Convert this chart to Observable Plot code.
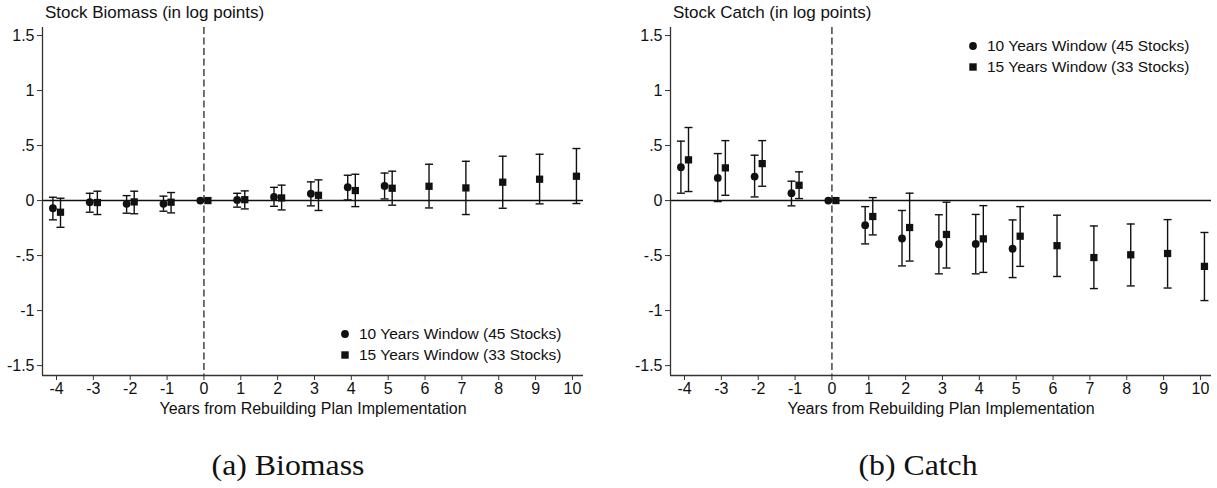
<!DOCTYPE html>
<html>
<head>
<meta charset="utf-8">
<script src="https://cdn.jsdelivr.net/npm/d3@7"></script>
<script src="https://cdn.jsdelivr.net/npm/@observablehq/plot@0.6"></script>
<style>
  html, body { margin: 0; padding: 0; background: #fff; overflow: hidden; }
  #wrap { position: relative; width: 1217px; height: 488px; background: #fff; font-family: "Liberation Sans", Arial, sans-serif; color: #111; }
  .panel { position: absolute; top: 0; }
  .ptitle { position: absolute; font-size: 17px; white-space: nowrap; line-height: 1; }
  .legend { position: absolute; font-size: 15.5px; white-space: nowrap; line-height: 1; }
  .legend .row { display: flex; align-items: center; height: 21px; }
  .legend svg { margin-right: 8px; }
  .caption { position: absolute; font-family: "Liberation Serif", "DejaVu Serif", serif; font-size: 30px; white-space: nowrap; line-height: 1; transform: translateX(-50%) scaleX(1.06); }
</style>
</head>
<body>
<div id="wrap"></div>
<script>
// ---------- data ----------
const years10 = [-4, -3, -2, -1, 0, 1, 2, 3, 4, 5];
const years15 = [-4, -3, -2, -1, 0, 1, 2, 3, 4, 5, 6, 7, 8, 9, 10];

// Biomass
const biomass10Est = [-0.07, -0.015, -0.03, -0.03, 0, 0.006, 0.033, 0.062, 0.121, 0.133];
const biomass10Lo  = [-0.175, -0.106, -0.115, -0.097, null, -0.06, -0.052, -0.048, 0.006, 0.015];
const biomass10Hi  = [0.03, 0.066, 0.045, 0.04, null, 0.066, 0.12, 0.17, 0.23, 0.25];

const biomass15Est = [-0.106, -0.018, -0.012, -0.015, 0, 0.008, 0.024, 0.048, 0.091, 0.112, 0.13, 0.115, 0.167, 0.194, 0.221];
const biomass15Lo  = [-0.243, -0.127, -0.12, -0.112, null, -0.076, -0.085, -0.09, -0.055, -0.042, -0.067, -0.127, -0.07, -0.03, -0.027];
const biomass15Hi  = [0.021, 0.085, 0.085, 0.073, null, 0.088, 0.14, 0.188, 0.239, 0.267, 0.33, 0.357, 0.403, 0.421, 0.473];

// Catch
const catch10Est = [0.303, 0.206, 0.218, 0.067, 0, -0.224, -0.345, -0.397, -0.394, -0.438];
const catch10Lo  = [0.067, -0.009, 0.033, -0.048, null, -0.394, -0.594, -0.666, -0.666, -0.7];
const catch10Hi  = [0.54, 0.427, 0.412, 0.176, null, -0.055, -0.09, -0.129, -0.126, -0.176];

const catch15Est = [0.37, 0.297, 0.336, 0.139, 0, -0.145, -0.245, -0.308, -0.348, -0.324, -0.41, -0.518, -0.493, -0.481, -0.598];
const catch15Lo  = [0.082, 0.048, 0.13, 0.018, null, -0.312, -0.55, -0.613, -0.653, -0.598, -0.69, -0.80, -0.776, -0.795, -0.909];
const catch15Hi  = [0.664, 0.545, 0.545, 0.261, null, 0.027, 0.067, -0.015, -0.046, -0.055, -0.133, -0.231, -0.213, -0.173, -0.29];

const xTicks = [-4, -3, -2, -1, 0, 1, 2, 3, 4, 5, 6, 7, 8, 9, 10];
const yTicks = [-1.5, -1, -0.5, 0, 0.5, 1, 1.5];
const eventYear = [0];
const zeroLine = [0];

const seriesLabels = ["10 Years Window (45 Stocks)", "15 Years Window (33 Stocks)"];
const panelTitles = ["Stock Biomass (in log points)", "Stock Catch (in log points)"];
const xLabel = "Years from Rebuilding Plan Implementation";
const captions = ["(a) Biomass", "(b) Catch"];

// ---------- helpers ----------
function rows(years, est, lo, hi) {
  return years.map((y, i) => ({year: y, est: est[i], lo: lo[i], hi: hi[i]}));
}
const capSymbol = {
  draw(ctx) { ctx.moveTo(-4, 0); ctx.lineTo(4, 0); }
};
const fmtY = d => d === 0 ? "0" : String(d).replace("0.", ".");

const X_DOMAIN = [-4.38, 10.3];
const Y_DOMAIN = [-1.59, 1.573];

function buildPanel(d10, d15, width, marginRight) {
  const ink = "#111";
  const ci = d => d.filter(r => r.lo != null);
  const layers = [];
  const addSeries = (data, dx, symbol, r) => {
    layers.push(Plot.ruleX(ci(data), {x: "year", y1: "lo", y2: "hi", dx, stroke: ink, strokeWidth: 1.4}));
    layers.push(Plot.dot(ci(data), {x: "year", y: "lo", dx, symbol: capSymbol, stroke: ink, strokeWidth: 1.4, r: 4}));
    layers.push(Plot.dot(ci(data), {x: "year", y: "hi", dx, symbol: capSymbol, stroke: ink, strokeWidth: 1.4, r: 4}));
    layers.push(Plot.dot(data, {x: "year", y: "est", dx, symbol, r, fill: ink, stroke: "none"}));
  };
  addSeries(d10, -3.6, "circle", 3.9);
  addSeries(d15, 4, "square", 4.1);
  return Plot.plot({
    width, height: 420,
    marginTop: 27, marginBottom: 45, marginLeft: 42, marginRight,
    style: {fontFamily: "Liberation Sans, Arial, sans-serif", fontSize: "16px", color: ink, background: "#fff", overflow: "visible"},
    x: {domain: X_DOMAIN},
    y: {domain: Y_DOMAIN},
    marks: [
      Plot.ruleY(zeroLine, {stroke: ink, strokeWidth: 1.5}),
      Plot.ruleX(eventYear, {stroke: "#444", strokeWidth: 1.5, strokeDasharray: "7,3.5"}),
      ...layers,
      Plot.ruleX([X_DOMAIN[0]], {stroke: "#333", strokeWidth: 1.3}),
      Plot.ruleY([Y_DOMAIN[0]], {stroke: "#333", strokeWidth: 1.3}),
      Plot.axisY({ticks: yTicks, tickFormat: fmtY, tickSize: 5, tickPadding: 3, label: null, stroke: "#333"}),
      Plot.axisX({ticks: xTicks, tickFormat: d => String(d), tickSize: 5, tickPadding: 2, label: xLabel, labelAnchor: "center", labelArrow: "none", labelOffset: 38, stroke: "#333", fontSize: 16})
    ]
  });
}

const wrap = document.getElementById("wrap");
const panels = [
  {left: 0, width: 608, mr: 25, d10: rows(years10, biomass10Est, biomass10Lo, biomass10Hi), d15: rows(years15, biomass15Est, biomass15Lo, biomass15Hi), legendTop: 323, title: panelTitles[0], caption: captions[0], capCenter: 288},
  {left: 628, width: 589, mr: 6, d10: rows(years10, catch10Est, catch10Lo, catch10Hi), d15: rows(years15, catch15Est, catch15Lo, catch15Hi), legendTop: 35, title: panelTitles[1], caption: captions[1], capCenter: 918}
];

panels.forEach(p => {
  const div = document.createElement("div");
  div.className = "panel";
  div.style.left = p.left + "px";
  div.appendChild(buildPanel(p.d10, p.d15, p.width, p.mr));
  wrap.appendChild(div);

  const t = document.createElement("div");
  t.className = "ptitle";
  t.style.left = (p.left + 45) + "px";
  t.style.top = "4px";
  t.textContent = p.title;
  wrap.appendChild(t);

  const lg = document.createElement("div");
  lg.className = "legend";
  lg.style.left = (p.left + 339) + "px";
  lg.style.top = p.legendTop + "px";
  const sym = ["circle", "square"];
  seriesLabels.forEach((lab, i) => {
    const row = document.createElement("div");
    row.className = "row";
    const ns = "http://www.w3.org/2000/svg";
    const s = document.createElementNS(ns, "svg");
    s.setAttribute("width", "12"); s.setAttribute("height", "12");
    let shape;
    if (sym[i] === "circle") {
      shape = document.createElementNS(ns, "circle");
      shape.setAttribute("cx", "6"); shape.setAttribute("cy", "6"); shape.setAttribute("r", "3.9");
    } else {
      shape = document.createElementNS(ns, "rect");
      shape.setAttribute("x", "2.3"); shape.setAttribute("y", "2.3"); shape.setAttribute("width", "7.4"); shape.setAttribute("height", "7.4");
    }
    shape.setAttribute("fill", "#111");
    s.appendChild(shape);
    row.appendChild(s);
    const span = document.createElement("span");
    span.textContent = lab;
    row.appendChild(span);
    lg.appendChild(row);
  });
  wrap.appendChild(lg);

  const c = document.createElement("div");
  c.className = "caption";
  c.style.left = p.capCenter + "px";
  c.style.top = "450px";
  c.textContent = p.caption;
  wrap.appendChild(c);
});
</script>
</body>
</html>
